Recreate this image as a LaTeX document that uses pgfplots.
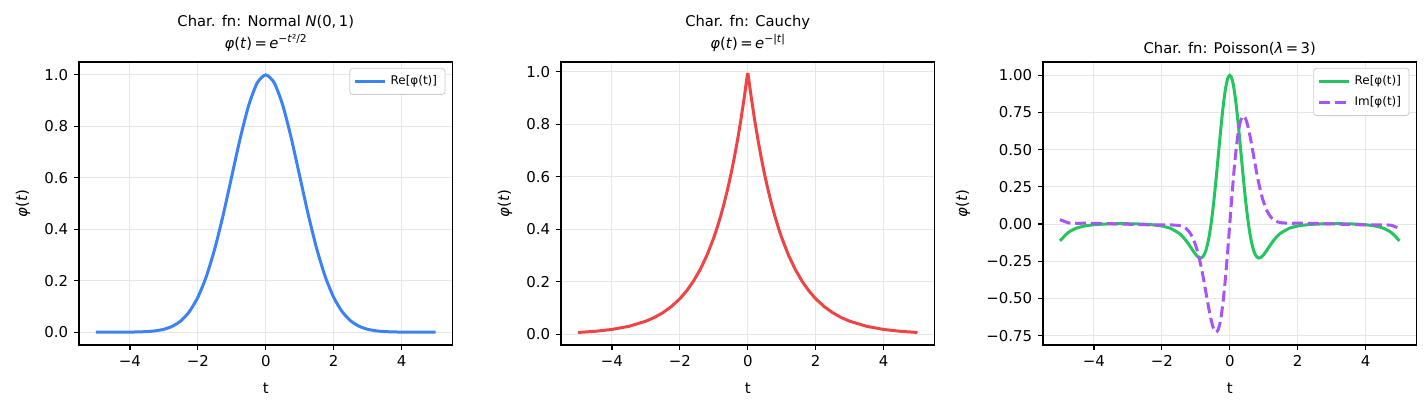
\documentclass[border=0pt]{standalone}
\usepackage{fontspec}
\setmainfont{DejaVu Sans}
\usepackage{pgfplots}
\usepackage{pgfplotstable}
\pgfplotsset{compat=1.18}

\definecolor{cblue}{HTML}{3B82F6}
\definecolor{cred}{HTML}{EF4444}
\definecolor{cgreen}{HTML}{22C55E}
\definecolor{cpurple}{HTML}{A855F7}
\definecolor{gridc}{RGB}{231,231,231}
\definecolor{legc}{RGB}{204,204,204}

\newcommand\sups[1]{\raisebox{0.42em}{\fontsize{5.4}{6}\selectfont #1}}
\newcommand\phit{\textit{φ}(\textit{t})}

% Poisson(3): t, Re, Im
\pgfplotstableread{
t re im
-5.0 -0.1126 0.0302
-4.75 -0.0552 0.0080
-4.5 -0.0259 0.0055
-4.25 -0.0117 0.0058
-4.0 -0.0045 0.0054
-3.75 -0.0006 0.0042
-3.5 0.0015 0.0026
-3.25 0.0024 0.0008
-3.0 0.0023 -0.0010
-2.75 0.0013 -0.0028
-2.5 -0.0010 -0.0044
-2.25 -0.0052 -0.0055
-2.0 -0.0131 -0.0058
-1.75 -0.0287 -0.0055
-1.5 -0.0609 -0.0092
-1.4 -0.0815 -0.0153
-1.3 -0.1076 -0.0276
-1.2 -0.1389 -0.0500
-1.1 -0.1733 -0.0875
-1.0 -0.2055 -0.1456
-0.95 -0.2180 -0.1837
-0.9 -0.2258 -0.2287
-0.85 -0.2278 -0.2795
-0.8 -0.2211 -0.3364
-0.75 -0.2041 -0.3979
-0.7 -0.1748 -0.4619
-0.65 -0.1314 -0.5263
-0.6 -0.0727 -0.5877
-0.55 0.0018 -0.6425
-0.5 0.0915 -0.6866
-0.45 0.1949 -0.7157
-0.4 0.3095 -0.7263
-0.35 0.4305 -0.7139
-0.3 0.5529 -0.6777
-0.25 0.6713 -0.6158
-0.2 0.7795 -0.5287
-0.15 0.8713 -0.4191
-0.1 0.9413 -0.2907
-0.05 0.9851 -0.1488
0.0 1.0000 0.0000
0.05 0.9851 0.1488
0.1 0.9413 0.2907
0.15 0.8713 0.4191
0.2 0.7795 0.5287
0.25 0.6713 0.6158
0.3 0.5529 0.6777
0.35 0.4305 0.7139
0.4 0.3095 0.7263
0.45 0.1949 0.7157
0.5 0.0915 0.6866
0.55 0.0018 0.6425
0.6 -0.0727 0.5877
0.65 -0.1314 0.5263
0.7 -0.1748 0.4619
0.75 -0.2041 0.3979
0.8 -0.2211 0.3364
0.85 -0.2278 0.2795
0.9 -0.2258 0.2287
0.95 -0.2180 0.1837
1.0 -0.2055 0.1456
1.1 -0.1733 0.0875
1.2 -0.1389 0.0500
1.3 -0.1076 0.0276
1.4 -0.0815 0.0153
1.5 -0.0609 0.0092
1.75 -0.0287 0.0055
2.0 -0.0131 0.0058
2.25 -0.0052 0.0055
2.5 -0.0010 0.0044
2.75 0.0013 0.0028
3.0 0.0023 0.0010
3.25 0.0024 -0.0008
3.5 0.0015 -0.0026
3.75 -0.0006 -0.0042
4.0 -0.0045 -0.0054
4.25 -0.0117 -0.0058
4.5 -0.0259 -0.0055
4.75 -0.0552 -0.0080
5.0 -0.1126 -0.0302
}\poisson

\pgfplotsset{
  chfn/.style={
    scale only axis, width=186.75bp, height=141.5bp,
    anchor=south west,
    xmin=-5.5, xmax=5.5,
    axis line style={line width=0.6bp},
    tick align=outside, tick pos=left,
    major tick length=2.6bp,
    every tick/.style={black, line width=0.6bp},
    grid=major, grid style={gridc, line width=0.5bp},
    xtick={-4,-2,0,2,4}, xticklabels={−4,−2,0,2,4},
    tick label style={font=\fontsize{7.5}{9}\selectfont},
    xticklabel style={inner sep=0pt, yshift=-2.6bp},
    yticklabel style={inner sep=0pt, xshift=-2.6bp},
    label style={font=\fontsize{7.5}{9}\selectfont},
    xlabel={t},
    xlabel style={at={(axis description cs:0.5,-0.152)}, anchor=center},
    ylabel={\phit},
    title style={font=\fontsize{7.4}{11.5}\selectfont, align=center,
      at={(axis description cs:0.5,1)}, anchor=south, yshift=-4.5bp},
    legend style={font=\fontsize{6}{7}\selectfont, draw=legc,
      rounded corners=1.5bp, fill=white, at={(0.981,0.979)},
      anchor=north east, inner xsep=2bp, inner ysep=1.5bp,
      row sep=0.6bp},
    legend cell align=left,
    legend image code/.code={\draw[##1] (0bp,0bp) -- (15bp,0bp);},
  },
}

\begin{document}
\begin{tikzpicture}
\useasboundingbox (0,0) rectangle (714bp,-205.5bp);

% Normal
\begin{axis}[chfn, at={(39.5bp,-172.5bp)},
  ymin=-0.05, ymax=1.05,
  ytick={0,0.2,0.4,0.6,0.8,1.0}, yticklabels={0.0,0.2,0.4,0.6,0.8,1.0},
  ylabel style={at={(axis description cs:-0.150,0.5)}, anchor=center},
  title={Char. fn: Normal \textit{N}(0,\,1)\\\phit\,=\,\textit{e}\sups{−\textit{t}²/2}}]
\addplot[cblue, line width=1.5bp, smooth, tension=0.4] coordinates {
(-5,0.0000) (-4.5,0.0000) (-4,0.0003) (-3.75,0.0009) (-3.5,0.0022)
(-3.25,0.0051) (-3,0.0111) (-2.75,0.0228) (-2.5,0.0439) (-2.25,0.0796)
(-2,0.1353) (-1.75,0.2163) (-1.5,0.3247) (-1.25,0.4578) (-1,0.6065)
(-0.75,0.7548) (-0.5,0.8825) (-0.25,0.9692) (0,1.0000) (0.25,0.9692)
(0.5,0.8825) (0.75,0.7548) (1,0.6065) (1.25,0.4578) (1.5,0.3247)
(1.75,0.2163) (2,0.1353) (2.25,0.0796) (2.5,0.0439) (2.75,0.0228)
(3,0.0111) (3.25,0.0051) (3.5,0.0022) (3.75,0.0009) (4,0.0003)
(4.5,0.0000) (5,0.0000)};
\addlegendentry{Re[φ(t)]}
\end{axis}

% Cauchy
\begin{axis}[chfn, at={(280.5bp,-172.5bp)},
  ymin=-0.041, ymax=1.037,
  ytick={0,0.2,0.4,0.6,0.8,1.0}, yticklabels={0.0,0.2,0.4,0.6,0.8,1.0},
  ylabel style={at={(axis description cs:-0.150,0.5)}, anchor=center},
  title={Char. fn: Cauchy\\\phit\,=\,\textit{e}\sups{−|\textit{t}|}}]
\addplot[cred, line width=1.5bp] coordinates {
(-5,0.0067) (-4.5,0.0111) (-4,0.0183) (-3.5,0.0302) (-3,0.0498)
(-2.75,0.0639) (-2.5,0.0821) (-2.25,0.1054) (-2,0.1353) (-1.8,0.1653)
(-1.6,0.2019) (-1.4,0.2466) (-1.2,0.3012) (-1,0.3679) (-0.9,0.4066)
(-0.8,0.4493) (-0.7,0.4966) (-0.6,0.5488) (-0.5,0.6065) (-0.4,0.6703)
(-0.3,0.7408) (-0.2,0.8187) (-0.1,0.9048) (-0.01,0.9900)
(0.01,0.9900) (0.1,0.9048) (0.2,0.8187) (0.3,0.7408) (0.4,0.6703)
(0.5,0.6065) (0.6,0.5488) (0.7,0.4966) (0.8,0.4493) (0.9,0.4066)
(1,0.3679) (1.2,0.3012) (1.4,0.2466) (1.6,0.2019) (1.8,0.1653)
(2,0.1353) (2.25,0.1054) (2.5,0.0821) (2.75,0.0639) (3,0.0498)
(3.5,0.0302) (4,0.0183) (4.5,0.0111) (5,0.0067)};
\end{axis}

% Poisson
\begin{axis}[chfn, at={(521.5bp,-172.5bp)},
  ymin=-0.8125, ymax=1.089,
  ytick={-0.75,-0.5,-0.25,0,0.25,0.5,0.75,1},
  yticklabels={−0.75,−0.50,−0.25,0.00,0.25,0.50,0.75,1.00},
  ylabel style={at={(axis description cs:-0.214,0.5)}, anchor=center},
  title style={yshift=-1.5bp},
  title={Char. fn: Poisson(\textit{λ}\,=\,3)}]
\addplot[cgreen, line width=1.5bp, smooth, tension=0.4] table[x=t, y=re] {\poisson};
\addlegendentry{Re[φ(t)]}
\addplot[cpurple, line width=1.5bp, smooth, tension=0.4, dash pattern=on 5.5bp off 2.4bp] table[x=t, y=im] {\poisson};
\addlegendentry{Im[φ(t)]}
\end{axis}
\end{tikzpicture}
\end{document}
